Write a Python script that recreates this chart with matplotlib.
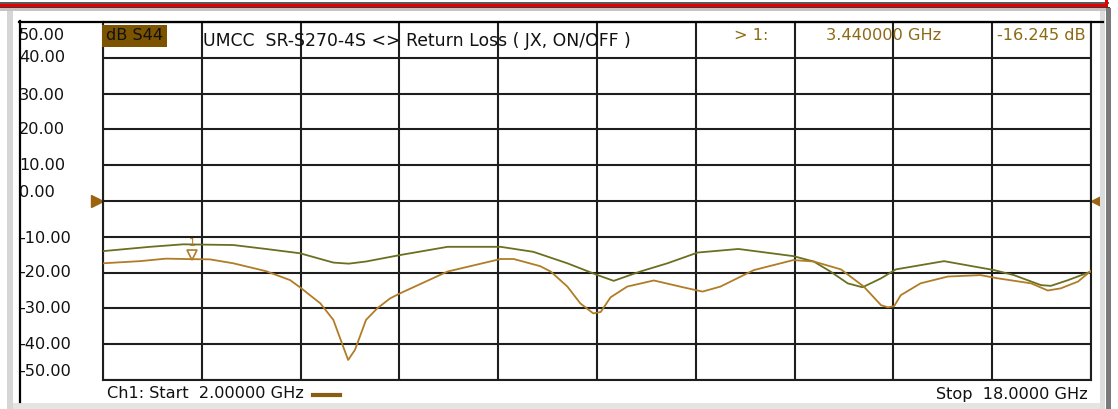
import matplotlib
matplotlib.use("Agg")
import matplotlib.pyplot as plt
from matplotlib.patches import Rectangle
from matplotlib.lines import Line2D
import matplotlib.transforms as mtransforms

# sweep, GHz
f_start = 2.0
f_stop = 18.0

# upper trace (olive)
green_f = [2.0, 2.76, 3.30, 4.11, 4.64, 5.19, 5.73, 5.98, 6.26, 6.81, 7.58, 8.44,
           8.97, 9.52, 10.01, 10.27, 10.70, 11.14, 11.63, 12.29, 13.18, 13.51,
           13.78, 14.06, 14.30, 14.60, 14.84, 15.62, 16.43, 16.75, 17.19, 17.35,
           17.63, 18.0]
green_db = [-14.0, -12.8, -12.1, -12.3, -13.4, -14.6, -17.2, -17.5, -16.9, -15.1,
            -12.8, -12.8, -14.2, -17.4, -20.7, -22.3, -19.7, -17.4, -14.4, -13.4,
            -15.4, -16.9, -19.7, -23.0, -24.1, -21.6, -19.1, -16.8, -19.3, -20.7,
            -23.5, -23.7, -22.1, -19.7]

# S44 trace (brown)
brown_f = [2.0, 2.60, 3.02, 3.44, 3.73, 4.11, 4.64, 5.03, 5.19, 5.52, 5.73, 5.89,
           5.97, 6.08, 6.26, 6.44, 6.65, 6.81, 7.58, 8.44, 8.65, 9.08, 9.25, 9.52,
           9.73, 9.94, 10.06, 10.22, 10.49, 10.92, 11.47, 11.71, 12.00, 12.54,
           13.18, 13.51, 13.95, 14.32, 14.60, 14.71, 14.81, 14.92, 15.24, 15.68,
           16.21, 16.49, 17.03, 17.30, 17.51, 17.79, 18.0]
brown_db = [-17.4, -16.8, -16.1, -16.245, -16.3, -17.4, -19.6, -22.1, -24.1, -28.6,
            -33.2, -40.7, -44.4, -41.6, -33.2, -30.0, -27.2, -25.8, -19.7, -16.2,
            -16.2, -18.2, -19.7, -23.9, -28.6, -31.4, -31.0, -26.9, -23.9, -22.2,
            -24.4, -25.3, -23.9, -19.3, -16.5, -16.9, -19.1, -23.9, -29.1, -29.7,
            -29.4, -26.3, -23.0, -21.1, -20.7, -21.6, -23.0, -25.0, -24.4, -22.5,
            -19.5]

marker_f = 3.44
marker_db = -16.245

y_ticks = [50, 40, 30, 20, 10, 0, -10, -20, -30, -40, -50]
y_labels = ["50.00", "40.00", "30.00", "20.00", "10.00", "0.00",
            "-10.00", "-20.00", "-30.00", "-40.00", "-50.00"]
# nudges in px (positive = down) as drawn on the analyzer screen
y_label_shift = {50: 13, 30: 2, 0: -8, -10: 2, -50: -8}

W, H = 1118, 409
green_col = "#6a7020"
brown_col = "#b07c26"
text_brown = "#8c6a14"
fs = 11.6

fig = plt.figure(figsize=(W / 100, H / 100), dpi=100)
fig.patch.set_facecolor("white")


def fx(x):
    return x / W


def fy(y):
    return 1 - y / H


def frect(x0, y0, x1, y1, color):
    fig.patches.append(Rectangle((fx(x0), fy(y1)), fx(x1) - fx(x0), fy(y0) - fy(y1),
                                 transform=fig.transFigure, color=color, lw=0, zorder=0))


def fline(x0, y0, x1, y1, color, lw):
    fig.lines.append(Line2D([fx(x0), fx(x1)], [fy(y0), fy(y1)], transform=fig.transFigure,
                            color=color, lw=lw, zorder=1))


# window chrome
frect(0, 2, 1109, 4, "#5c5c5c")
frect(0, 4, 1108, 7, "#e80000")
frect(1105, 0, 1108, 7, "#e80000")
frect(0, 7, 1110, 8, "#3c3c3c")
frect(0, 8, 1110, 11, "#c4c4c4")
frect(7, 11, 13, 409, "#d6d6d6")
frect(13, 403, 1105, 409, "#e4e4e4")
frect(1100, 11, 1105, 409, "#dcdcdc")
frect(1106, 8, 1111, 409, "#7a7a7a")
fline(19.5, 21, 19.5, 402, "black", 1.6)
fline(19, 21.5, 1103, 21.5, "black", 1.6)

ax = fig.add_axes([fx(103), fy(380), fx(1091) - fx(103), fy(22) - fy(380)])
ax.set_xlim(f_start, f_stop)
ax.set_ylim(-50, 50)
ax.set_xticks([f_start + i * (f_stop - f_start) / 10 for i in range(11)])
ax.set_yticks(y_ticks)
ax.tick_params(length=0, labelleft=False, labelbottom=False)
ax.grid(True, color="#1e1e1e", lw=1.5)
for s in ax.spines.values():
    s.set_color("#1e1e1e")
    s.set_linewidth(1.5)

ax.plot(green_f, green_db, color=green_col, lw=1.3, zorder=3)
ax.plot(brown_f, brown_db, color=brown_col, lw=1.3, zorder=4)

# marker 1
mk = mtransforms.offset_copy(ax.transData, fig=fig, x=0, y=4, units="dots")
ax.plot([marker_f], [marker_db], marker="v", ms=7, mfc="none", mec=brown_col,
        mew=1.2, transform=mk, clip_on=False, zorder=5)
ax.text(marker_f, marker_db, "1", color=brown_col, fontsize=8, ha="center", va="bottom",
        transform=mtransforms.offset_copy(ax.transData, fig=fig, x=0, y=11, units="dots"))

# reference level arrows
lt = mtransforms.offset_copy(ax.transData, fig=fig, x=-6, y=0, units="dots")
rt = mtransforms.offset_copy(ax.transData, fig=fig, x=6, y=0, units="dots")
ax.plot([f_start], [0], marker=">", ms=8, color="#9a6410", transform=lt, clip_on=False)
ax.plot([f_stop], [0], marker="<", ms=8, color="#9a6410", transform=rt, clip_on=False)

# y labels at the far left
for v, lab in zip(y_ticks, y_labels):
    tr = mtransforms.blended_transform_factory(fig.transFigure, ax.transData)
    tr = tr + mtransforms.ScaledTranslation(0, -y_label_shift.get(v, 0) / 100, fig.dpi_scale_trans)
    ax.text(fx(19), v, lab, transform=tr, ha="left", va="center", fontsize=fs,
            color="#111111", clip_on=False)

# header row
ax.text(fx(106), fy(36), "dB S44", transform=fig.transFigure, fontsize=fs, va="center",
        color="#111111", bbox=dict(boxstyle="square,pad=0.22", fc="#7c5400", ec="none"))
ax.text(fx(203), fy(41), "UMCC  SR-S270-4S <> Return Loss ( JX, ON/OFF )",
        transform=fig.transFigure, fontsize=12.4, va="center", color="#111111")
ax.text(fx(734), fy(36), "> 1:", transform=fig.transFigure, fontsize=fs, va="center",
        color=text_brown)
ax.text(fx(826), fy(36), "3.440000 GHz", transform=fig.transFigure, fontsize=fs,
        va="center", color=text_brown)
ax.text(fx(997), fy(36), "-16.245 dB", transform=fig.transFigure, fontsize=fs,
        va="center", color=text_brown)

# footer
fig.text(fx(107), fy(394), "Ch1: Start  2.00000 GHz", fontsize=fs, va="center",
         color="#111111")
fline(313, 394.5, 340, 394.5, "#8c5c10", 3)
fig.text(fx(1088), fy(394), "Stop  18.0000 GHz", fontsize=fs, va="center", ha="right",
         color="#111111")

fig.savefig("out.png", dpi=100)
